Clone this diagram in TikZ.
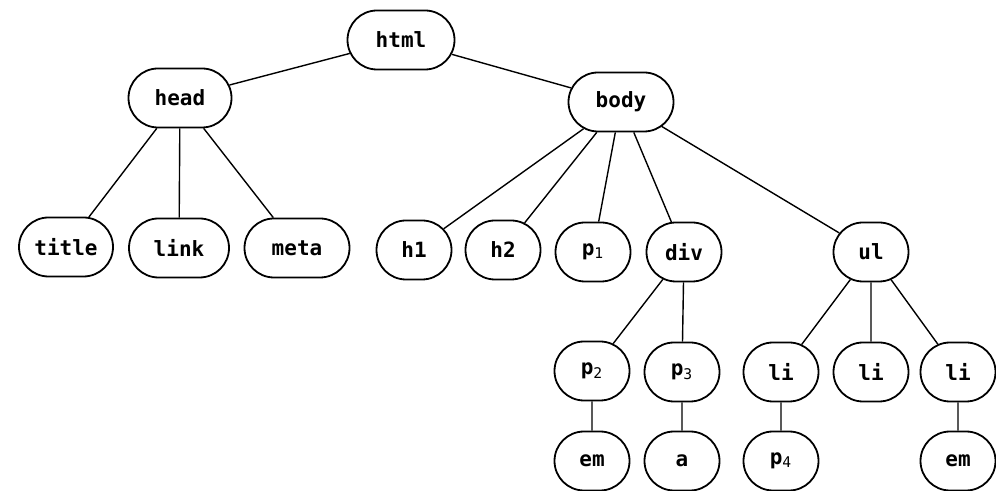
\documentclass[tikz,border=0pt]{standalone}
\usepackage{fontspec}
\newfontfamily\treefont{DejaVu Sans Mono}
\usetikzlibrary{shapes.misc}
\newcommand{\sub}[1]{\textsubscript{\mdseries #1}}
\tikzset{
  tag/.style={rounded rectangle, draw, line width=0.9pt, fill=white,
    minimum height=29.5pt, minimum width=39.5pt, inner sep=1pt,
    font=\treefont\bfseries\fontsize{10.5}{12}\selectfont},
  link/.style={line width=0.7pt}
}
\begin{document}
\begin{tikzpicture}[x=0.5pt, y=-0.5pt]
\useasboundingbox (0,0) rectangle (996,491);
% root and first level
\node[tag, minimum width=55.5pt] (html) at (401,40) {html};
\node[tag, minimum width=53.5pt] (head) at (180,98) {head};
\node[tag, minimum width=54.5pt] (body) at (621,102) {body};
% children of head
\node[tag, minimum width=49pt] (title) at (66,247) {title};
\node[tag, minimum width=52pt] (lnk) at (179,248) {link};
\node[tag, minimum width=54.5pt] (meta) at (297,248) {meta};
% children of body
\node[tag] (h1) at (414,250) {h1};
\node[tag] (h2) at (503,250) {h2};
\node[tag] (p1) at (593,252) {p\sub{1}};
\node[tag] (div) at (684,252) {div};
\node[tag] (ul) at (871,252) {ul};
% fourth level
\node[tag] (p2) at (592,371) {p\sub{2}};
\node[tag] (p3) at (682,372) {p\sub{3}};
\node[tag] (li1) at (781,372) {li};
\node[tag] (li2) at (871,372) {li};
\node[tag] (li3) at (958,372) {li};
% leaves
\node[tag] (em1) at (592,461) {em};
\node[tag] (a) at (682,461) {a};
\node[tag] (p4) at (781,461) {p\sub{4}};
\node[tag] (em2) at (958,461) {em};
% connectors
\draw[link] (html) -- (head);
\draw[link] (html) -- (body);
\draw[link] (head) -- (title);
\draw[link] (head) -- (lnk);
\draw[link] (head) -- (meta);
\draw[link] (body) -- (h1);
\draw[link] (body) -- (h2);
\draw[link] (body) -- (p1);
\draw[link] (body) -- (div);
\draw[link] (body) -- (ul);
\draw[link] (div) -- (p2);
\draw[link] (div) -- (p3);
\draw[link] (ul) -- (li1);
\draw[link] (ul) -- (li2);
\draw[link] (ul) -- (li3);
\draw[link] (p2) -- (em1);
\draw[link] (p3) -- (a);
\draw[link] (li1) -- (p4);
\draw[link] (li3) -- (em2);
\end{tikzpicture}
\end{document}
